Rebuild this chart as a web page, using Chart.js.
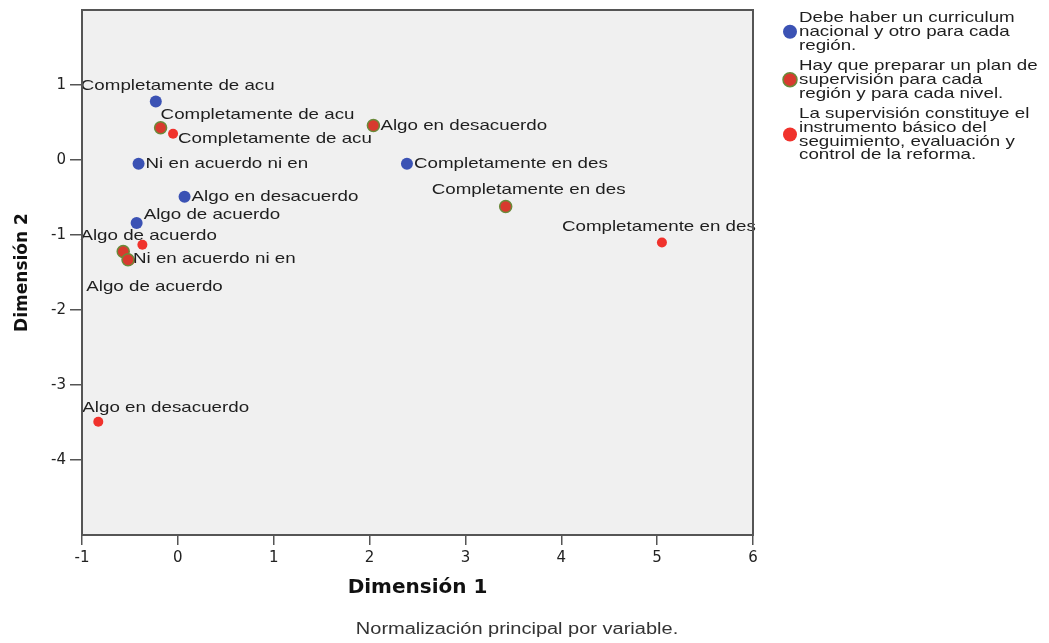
<!DOCTYPE html>
<html>
<head>
<meta charset="utf-8">
<script src="https://cdn.jsdelivr.net/npm/chart.js@4.4.0/dist/chart.umd.min.js"></script>
<style>
  body { margin: 0; background: #fff; }
  #wrap { position: relative; width: 1049px; height: 643px; }
</style>
</head>
<body>
<div id="wrap"><canvas id="myChart"></canvas></div>
<script>
// categories (same order for every variable)
var categories = ['Completamente de acuerdo', 'Algo de acuerdo', 'Ni en acuerdo ni en desacuerdo', 'Algo en desacuerdo', 'Completamente en desacuerdo'];

// legend names of the three variables
var seriesNames = [
  ['Debe haber un curriculum', 'nacional y otro para cada', 'región.'],
  ['Hay que preparar un plan de', 'supervisión para cada', 'región y para cada nivel.'],
  ['La supervisión constituye el', 'instrumento básico del', 'seguimiento, evaluación y', 'control de la reforma.']
];

// Dimension 1 / Dimension 2 coordinates, one value per category
var curriculumX = [-0.23, -0.43, -0.41, 0.07, 2.39];
var curriculumY = [0.78, -0.84, -0.05, -0.49, -0.05];
var planX = [-0.18, -0.57, -0.52, 2.04, 3.42];
var planY = [0.43, -1.22, -1.33, 0.46, -0.62];
var supervisionX = [-0.05, -0.37, -0.50, -0.83, 5.05];
var supervisionY = [0.35, -1.13, -1.34, -3.49, -1.10];

var xTicks = [-1, 0, 1, 2, 3, 4, 5, 6];
var yTicks = [-4, -3, -2, -1, 0, 1];

// where each point label sits relative to its point (px); null = label hidden
var labelOffsets = [
  [[-75, -16], [7, -8], [7, 0], [7, 0], [7, 0]],
  [[0, -13], [-37, 35], [5, -1], [7, 0], [-74, -17]],
  [[5, 5], [-62, -9], null, [-16, -14], [-100, -16]]
];

var STRETCH = 1.25;
function drawWide(ctx, text, x, y, align) {
  ctx.save();
  ctx.translate(x, y);
  ctx.scale(STRETCH, 1);
  ctx.textAlign = align || 'left';
  ctx.fillText(text, 0, 0);
  ctx.restore();
}

function points(xs, ys) {
  return xs.map(function(x, i) { return {x: x, y: ys[i]}; });
}

var markerStyles = [
  {bg: '#3b52b4', border: '#3b52b4', bw: 0, r: 6},
  {bg: '#d83a2e', border: '#6a8a3a', bw: 1.5, r: 6},
  {bg: '#f0322c', border: '#f0322c', bw: 0, r: 5}
];

function drawMarker(ctx, st, x, y, r) {
  ctx.beginPath();
  ctx.arc(x, y, r, 0, Math.PI * 2);
  ctx.fillStyle = st.bg;
  ctx.fill();
  if (st.bw) {
    ctx.lineWidth = st.bw;
    ctx.strokeStyle = st.border;
    ctx.stroke();
  }
}

var plotDecor = {
  id: 'plotDecor',
  beforeDraw: function(chart) {
    var a = chart.chartArea, ctx = chart.ctx;
    ctx.save();
    ctx.fillStyle = '#f0f0f0';
    ctx.fillRect(a.left, a.top, a.right - a.left, a.bottom - a.top);
    ctx.restore();
  },
  afterDatasetsDraw: function(chart) {
    var ctx = chart.ctx;
    ctx.save();
    ctx.font = '15px "Liberation Sans", Arial, sans-serif';
    ctx.fillStyle = '#1e1e1e';
    ctx.textBaseline = 'middle';
    chart.data.datasets.forEach(function(ds, i) {
      var meta = chart.getDatasetMeta(i);
      meta.data.forEach(function(pt, j) {
        var off = labelOffsets[i][j];
        if (!off) return;
        drawWide(ctx, categories[j].slice(0, 20), pt.x + off[0], pt.y + off[1]);
      });
    });
    ctx.restore();
  },
  afterDraw: function(chart) {
    var a = chart.chartArea, ctx = chart.ctx;
    ctx.save();
    // frame
    ctx.strokeStyle = '#555';
    ctx.lineWidth = 2;
    ctx.strokeRect(a.left, a.top, a.right - a.left, a.bottom - a.top);
    // legend
    ctx.font = '15px "Liberation Sans", Arial, sans-serif';
    ctx.textBaseline = 'middle';
    var y = 18, lh = 13.8;
    seriesNames.forEach(function(lines, i) {
      var mid = y + (lines.length - 1) * lh / 2;
      drawMarker(ctx, markerStyles[i], 790, mid, 7);
      ctx.fillStyle = '#1e1e1e';
      lines.forEach(function(t, k) { drawWide(ctx, t, 799, y + k * lh); });
      y += lines.length * lh + 6.5;
    });
    // footnote
    ctx.font = '16px "Liberation Sans", Arial, sans-serif';
    ctx.fillStyle = '#333';
    drawWide(ctx, 'Normalización principal por variable.', 517, 630, 'center');
    ctx.restore();
  }
};

var ctx = document.getElementById('myChart').getContext('2d');
var myChart = new Chart(ctx, {
  type: 'scatter',
  data: {
    datasets: [
      {label: seriesNames[0].join(' '), data: points(curriculumX, curriculumY)},
      {label: seriesNames[1].join(' '), data: points(planX, planY)},
      {label: seriesNames[2].join(' '), data: points(supervisionX, supervisionY)}
    ].map(function(ds, i) {
      var st = markerStyles[i];
      ds.backgroundColor = st.bg;
      ds.borderColor = st.border;
      ds.borderWidth = st.bw;
      ds.pointRadius = st.r;
      ds.pointHoverRadius = st.r;
      return ds;
    })
  },
  options: {
    responsive: true,
    maintainAspectRatio: false,
    animation: false,
    layout: { padding: {left: 12, top: 10, right: 296, bottom: 43} },
    plugins: {
      legend: { display: false },
      tooltip: { enabled: false }
    },
    scales: {
      x: {
        type: 'linear',
        min: -1, max: 6,
        afterBuildTicks: function(scale) { scale.ticks = xTicks.map(function(v) { return {value: v}; }); },
        afterFit: function(scale) { scale.height = 65; scale.paddingLeft = 0; scale.paddingRight = 0; },
        border: { display: false },
        grid: { drawOnChartArea: false, drawTicks: true, tickLength: 10, color: '#555', lineWidth: 1.5 },
        ticks: { color: '#222', padding: 4, font: { family: 'DejaVu Sans', size: 15 } },
        title: {
          display: true, text: 'Dimensión 1', color: '#111',
          padding: 0,
          font: { family: 'DejaVu Sans', size: 20, weight: 'bold' }
        }
      },
      y: {
        type: 'linear',
        min: -5, max: 2,
        afterBuildTicks: function(scale) { scale.ticks = yTicks.map(function(v) { return {value: v}; }); },
        afterFit: function(scale) { scale.width = 70; scale.paddingTop = 0; scale.paddingBottom = 0; },
        border: { display: false },
        grid: { drawOnChartArea: false, drawTicks: true, tickLength: 12, color: '#555', lineWidth: 1.5 },
        ticks: { color: '#222', padding: 4, font: { family: 'DejaVu Sans', size: 15 } },
        title: {
          display: true, text: 'Dimensión 2', color: '#111',
          padding: 0,
          font: { family: 'DejaVu Sans', size: 17, weight: 'bold' }
        }
      }
    }
  },
  plugins: [plotDecor]
});
</script>
</body>
</html>
